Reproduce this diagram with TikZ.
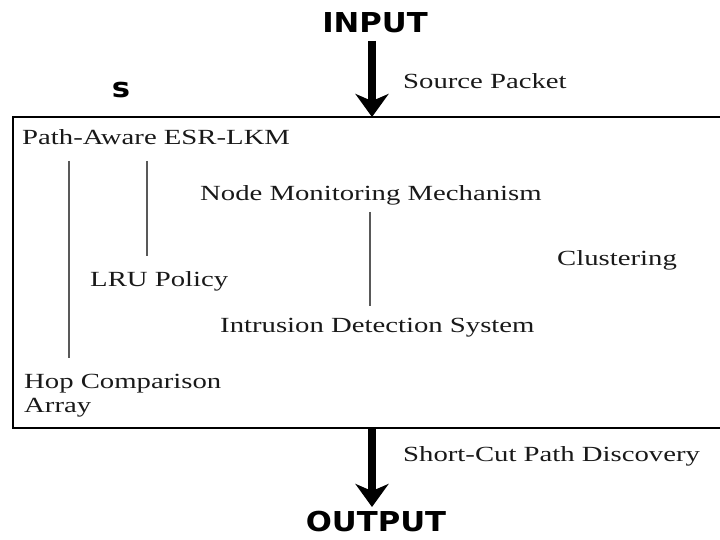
\documentclass[tikz,border=0pt]{standalone}
\usepackage{fontspec}
\setmainfont{Liberation Serif}[FakeStretch=1.33]
\newfontfamily\headfont{DejaVu Sans}[FakeStretch=1.12]
\usetikzlibrary{arrows.meta}
\tikzset{
  label/.style={inner sep=0pt, anchor=base west, text=black!90,
    font=\fontsize{21.6}{23.5}\selectfont, align=left},
  heading/.style={inner sep=0pt, anchor=base, text=black,
    font=\headfont\bfseries\fontsize{27.4}{30}\selectfont},
  link/.style={draw=black!65, line width=1.6pt},
  flow/.style={line width=8pt,
    -{Stealth[length=23pt, width=33pt, inset=7pt]}},
  frame/.style={line width=1.8pt}
}
\begin{document}
\begin{tikzpicture}[x=1pt, y=-1pt]
\useasboundingbox (0,0) rectangle (720,540);

% outer frame, open to the right
\draw[frame] (720,117) -- (13,117) -- (13,428) -- (720,428);
\draw[line width=2.6pt] (13,117) -- (13,428);
\coordinate (boxtop) at (372,117);
\coordinate (boxbot) at (372,428);

% headings
\node[heading] (input) at (375,33) {INPUT};
\node[heading] (output) at (376,531) {OUTPUT};
\node[heading] (s) at (121,98) {s};

% texts beside the arrows
\node[label] (src) at (403,89) {Source Packet};
\node[label] (scp) at (403,461) {Short-Cut Path Discovery};

% texts inside the frame
\node[label] (pa) at (22,145) {Path-Aware ESR-LKM};
\node[label] (nmm) at (200,201) {Node Monitoring Mechanism};
\node[label] (lru) at (90,286) {LRU Policy};
\node[label] (clu) at (557,265) {Clustering};
\node[label] (ids) at (220,332) {Intrusion Detection System};
\node[label] (hca) at (24,412) {Hop Comparison\\Array};

% thin connecting lines
\coordinate (pa1) at (69,161);
\coordinate (pa2) at (147,161);
\coordinate (nm1) at (370,212);
\draw[link] (pa1) -- (pa1 |- 0,358);
\draw[link] (pa2) -- (pa2 |- 0,256);
\draw[link] (nm1) -- (nm1 |- 0,306);

% input and output arrows
\coordinate (instart) at (372,41);
\coordinate (outend) at (372,507);
\draw[flow] (instart) -- (boxtop);
\draw[flow] (boxbot) -- (outend);
\end{tikzpicture}
\end{document}
